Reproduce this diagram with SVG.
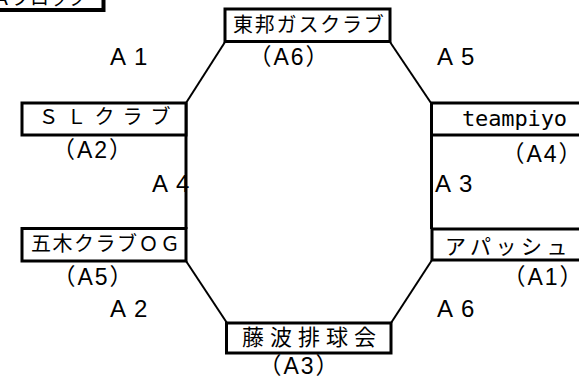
<svg xmlns="http://www.w3.org/2000/svg" width="579" height="381" viewBox="0 0 579 381">
<style>
.box{fill:#fff;stroke:#000;stroke-width:3}
.jp{font-family:"Noto Sans CJK JP","Liberation Sans",sans-serif;fill:#000}
.lbl{font-family:"Liberation Sans","Noto Sans CJK JP",sans-serif;fill:#000;font-size:24px;letter-spacing:8px}
.par{font-family:"Liberation Sans","Noto Sans CJK JP",sans-serif;fill:#000;font-size:23px;letter-spacing:2px;text-anchor:middle}
.mono{font-family:"DejaVu Sans Mono","Liberation Mono",monospace;fill:#000}
.ln{stroke:#000;stroke-width:2;fill:none}
.vl{stroke:#000;stroke-width:3;fill:none}
</style>
<rect width="579" height="381" fill="#fff"/>
<g id="title">
<rect x="-6" y="-20" width="109.5" height="30" fill="#fff" stroke="#000" stroke-width="4"/>
<text class="jp" x="-8" y="5" font-size="19">Ａブロック</text>
</g>
<g id="connectors">
<line class="ln" x1="225" y1="42" x2="186" y2="103"/>
<line class="vl" x1="186" y1="103" x2="186" y2="229"/>
<line class="ln" x1="186" y1="261" x2="227" y2="323"/>
<line class="ln" x1="390" y1="42" x2="431" y2="103"/>
<line class="vl" x1="431.5" y1="103" x2="431.5" y2="229"/>
<line class="ln" x1="432" y1="260" x2="391" y2="323"/>
</g>
<g id="node-toho">
<rect class="box" x="225" y="9" width="165" height="32.5"/>
<text class="jp" x="233" y="32" font-size="20" letter-spacing="1.8">東邦ガスクラブ</text>
<text class="par" x="289.5" y="65">（A6）</text>
</g>
<g id="node-sl">
<rect class="box" x="22" y="103" width="164" height="32"/>
<text class="jp" x="38.5" y="124" font-size="20" letter-spacing="8">ＳＬクラブ</text>
<text class="par" x="93" y="158">（A2）</text>
</g>
<g id="node-itsuki">
<rect class="box" x="22" y="228.5" width="164" height="32.5"/>
<text class="jp" x="31" y="251" font-size="20" letter-spacing="1.5">五木クラブＯＧ</text>
<text class="par" x="93.5" y="285">（A5）</text>
</g>
<g id="node-fujinami">
<rect class="box" x="226.5" y="323" width="164.5" height="30"/>
<text class="jp" x="242" y="345" font-size="22" letter-spacing="6">藤波排球会</text>
<text class="par" x="299.5" y="374">（A3）</text>
</g>
<g id="node-teampiyo">
<rect class="box" x="431.5" y="103" width="170" height="32"/>
<text class="mono" x="462" y="126" font-size="22" textLength="105" lengthAdjust="spacing">teampiyo</text>
<text class="par" x="542.5" y="162">（A4）</text>
</g>
<g id="node-apache">
<rect class="box" x="432" y="229" width="170" height="31"/>
<text class="jp" x="445" y="254" font-size="21" letter-spacing="4.5">アパッシュ</text>
<text class="par" x="543.5" y="285">（A1）</text>
</g>
<g id="labels">
<text class="lbl" x="110" y="65">A1</text>
<text class="lbl" x="437" y="65">A5</text>
<text class="lbl" x="152" y="192">A4</text>
<text class="lbl" x="435" y="192">A3</text>
<text class="lbl" x="110" y="317">A2</text>
<text class="lbl" x="437" y="317">A6</text>
</g>
</svg>
